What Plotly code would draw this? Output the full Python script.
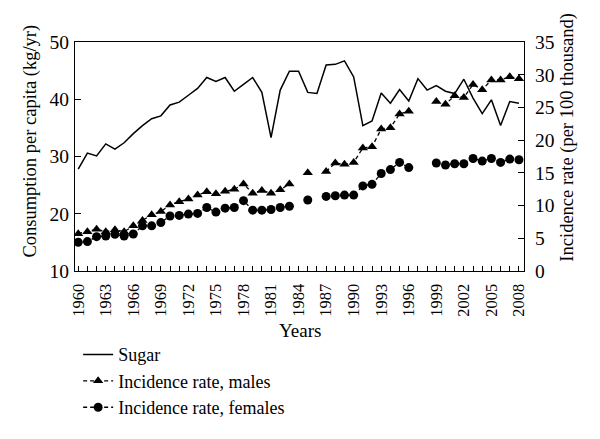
import plotly.graph_objects as go

# Sugar consumption and incidence rates, 1960-2008
years = list(range(1960, 2009))

sugar = [27.8, 30.6, 30.1, 32.2, 31.3, 32.4, 34.0, 35.4, 36.6, 37.1,
         39.0, 39.5, 40.7, 41.9, 43.8, 43.1, 43.8, 41.4, 42.6, 43.8,
         41.2, 33.3, 41.6, 44.9, 44.9, 41.2, 41.0, 46.0, 46.1, 46.7,
         43.9, 35.4, 36.2, 41.1, 39.3, 41.7, 39.7, 43.6, 41.6, 42.4,
         41.4, 41.0, 43.5, 40.2, 37.5, 39.9, 35.4, 39.6, 39.3]

males = [5.7, 6.0, 6.4, 6.0, 6.3, 6.0, 6.9, 7.7, 8.6, 9.1,
         10.1, 10.6, 11.0, 11.6, 12.1, 11.8, 12.2, 12.5, 13.3, 11.9,
         12.3, 11.9, 12.4, 13.3, None, 15.0, None, 15.2, 16.5, 16.3,
         16.6, 18.8, 19.0, 21.7, 21.9, 24.0, 24.4, None, None, 25.9,
         25.5, 26.8, 26.5, 28.5, 27.7, 29.2, 29.2, 29.7, 29.4]

females = [4.4, 4.5, 5.25, 5.35, 5.6, 5.35, 5.65, 6.9, 6.9, 7.4,
           8.4, 8.5, 8.7, 8.8, 9.7, 9.0, 9.6, 9.7, 10.75, 9.3,
           9.3, 9.4, 9.7, 9.9, None, 10.85, None, 11.4, 11.5, 11.6,
           11.6, 13.0, 13.25, 14.9, 15.5, 16.6, 15.8, None, None, 16.5,
           16.2, 16.4, 16.4, 17.2, 16.8, 17.2, 16.6, 17.1, 17.0]

x_ticks = list(range(1960, 2009, 3))
x_labels = [str(y) for y in x_ticks]

FONT = "Liberation Serif"

fig = go.Figure()

fig.add_trace(go.Scatter(
    x=years, y=sugar, mode='lines', name='Sugar', legendgroup='a',
    line=dict(color='black', width=1.5),
))
fig.add_trace(go.Scatter(
    x=years, y=males, mode='lines+markers', name='Incidence rate, males',
    legendgroup='b', yaxis='y2', connectgaps=False,
    line=dict(color='black', width=1.3, dash='4px,3px'),
    marker=dict(symbol='triangle-up', size=9, color='black'),
))
fig.add_trace(go.Scatter(
    x=years, y=females, mode='lines+markers', name='Incidence rate, females',
    legendgroup='c', yaxis='y2', connectgaps=False,
    line=dict(color='black', width=1.3, dash='4px,3px'),
    marker=dict(symbol='circle', size=9, color='black'),
))

# page body has an 8px margin, so the figure is 8px smaller than the window
fig.update_layout(
    width=592, height=431,
    margin=dict(l=67, r=76, t=34, b=168),
    plot_bgcolor='white', paper_bgcolor='white',
    font=dict(family=FONT, color='black', size=16),
    showlegend=True,
    legend=dict(
        x=0.007, y=-0.285, xanchor='left', yanchor='top',
        font=dict(size=18), bgcolor='rgba(0,0,0,0)', tracegroupgap=0,
    ),
    xaxis=dict(
        range=[1959.65, 2008.55],
        tickvals=x_ticks, ticktext=x_labels, tickangle=-90,
        ticks='inside', ticklen=5, tickcolor='black',
        minor=dict(dtick=1, tick0=1960, ticks='inside', ticklen=5, tickcolor='black'),
        tickfont=dict(size=16.5), ticklabelstandoff=5,
        showline=True, linecolor='black', linewidth=1.3, mirror=True,
        showgrid=False, zeroline=False,
    ),
    yaxis=dict(
        range=[10, 50], dtick=10,
        ticks='inside', ticklen=6, tickcolor='black',
        tickfont=dict(size=19.5), ticklabelstandoff=1,
        showline=True, linecolor='black', linewidth=1.3, mirror=True,
        showgrid=False, zeroline=False,
    ),
    yaxis2=dict(
        range=[0, 35], dtick=5, overlaying='y', side='right',
        ticks='inside', ticklen=6, tickcolor='black',
        tickfont=dict(size=19.5), ticklabelstandoff=6,
        showline=True, linecolor='black', linewidth=1.3,
        showgrid=False, zeroline=False,
    ),
    annotations=[
        dict(text='Years', x=0.5, y=-0.258, xref='paper', yref='paper',
             xanchor='center', yanchor='middle', showarrow=False,
             font=dict(size=19)),
        dict(text='Consumption per capita (kg/yr)', textangle=-90,
             x=-0.1, y=0.048, xref='paper', yref='paper',
             xanchor='center', yanchor='bottom', showarrow=False,
             font=dict(size=18.5)),
        dict(text='Incidence rate (per 100 thousand)', textangle=-90,
             x=1.098, y=0.03, xref='paper', yref='paper',
             xanchor='center', yanchor='bottom', showarrow=False,
             font=dict(size=18.5)),
    ],
)

fig.write_html("out.html")
